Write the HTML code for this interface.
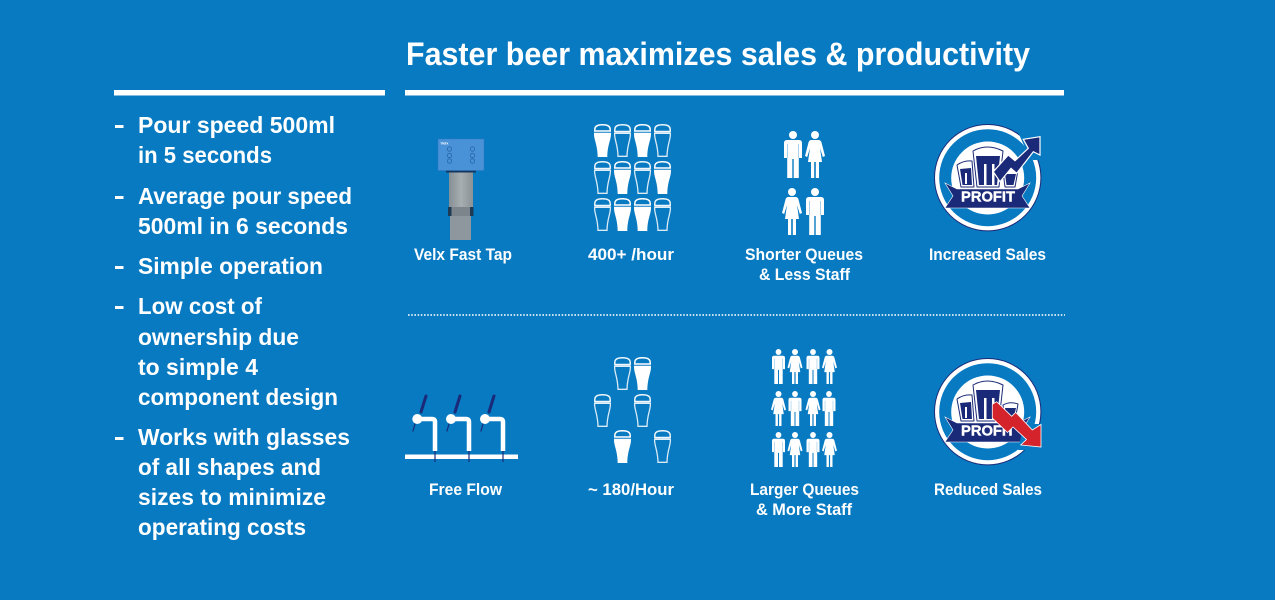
<!DOCTYPE html>
<html lang="en">
<head>
<meta charset="utf-8">
<title>Faster beer maximizes sales &amp; productivity</title>
<style>
html,body{margin:0;padding:0;background:#087ac2;width:1275px;height:600px;overflow:hidden}
svg{display:block}
text{font-family:"Liberation Sans",sans-serif;fill:#fff;font-weight:bold}
.b{font-size:23px}
.l{font-size:16.5px}
</style>
</head>
<body>
<svg width="1275" height="600" viewBox="0 0 1275 600" xmlns="http://www.w3.org/2000/svg">
<defs>
<symbol id="g-o" viewBox="0 0 17 33" width="17" height="33" overflow="visible">
  <path d="M.8 7.500V5.500Q.8 .8 8.500 .8T16.200 5.500V7.500Z" fill="none" stroke="#fff" stroke-width="1.500" opacity=".92"/>
  <path d="M.6 9.300H16.400C16.700 16 13.200 20 13 32.300H4C3.800 20 .3 16 .6 9.300Z" fill="none" stroke="#fff" stroke-width="1.300" opacity=".85"/>
  <rect x="1" y="7.500" width="15" height="1.800" fill="#fff" opacity=".5"/>
</symbol>
<symbol id="g-f" viewBox="0 0 17 33" width="17" height="33" overflow="visible">
  <path d="M.8 7V5.500Q.8 .8 8.500 .8T16.200 5.500V7Z" fill="none" stroke="#fff" stroke-width="1.500"/>
  <path d="M0 8.800H17C17.300 16 13.500 20 13.300 33H3.700C3.500 20 -.3 16 0 8.800Z" fill="#fff"/>
</symbol>
<symbol id="man" viewBox="0 0 18 47" width="18" height="47" overflow="visible" preserveAspectRatio="none">
  <circle cx="9" cy="4" r="4" fill="#fff"/>
  <path d="M3 9H15Q18 9 18 12V27H14.800V47H9.700V28H8.300V47H3.200V27H0V12Q0 9 3 9Z" fill="#fff"/>
  <path d="M3.500 13V27M14.500 13V27" stroke="#0a7cc3" stroke-width=".5" opacity=".7"/>
</symbol>
<symbol id="woman" viewBox="0 0 20 47" width="20" height="47" overflow="visible" preserveAspectRatio="none">
  <circle cx="10" cy="4" r="4" fill="#fff"/>
  <path d="M6.500 9H13.500Q15.800 9 16.500 11.500L20 25L17.800 26L15 17L17 31H14V47H10.800V31H9.200V47H6V31H3L5 17L2.200 26L0 25L3.500 11.500Q4.200 9 6.500 9Z" fill="#fff"/>
</symbol>
<linearGradient id="post" x1="0" x2="1" y1="0" y2="0">
  <stop offset="0" stop-color="#858f96"/><stop offset=".5" stop-color="#a7aeb1"/><stop offset="1" stop-color="#8a9296"/>
</linearGradient>
<g id="badge-base">
  <circle cx="987.700" cy="177.700" r="53.700" fill="#1b2a78"/>
  <circle cx="987.700" cy="177.700" r="52.700" fill="#fff"/>
  <circle cx="987.700" cy="177.700" r="48.500" fill="#087ac2"/>
  <circle cx="987.700" cy="178" r="36.500" fill="#fff"/>
  <g stroke-linejoin="round">
    <path d="M957 165Q964 160 972 161L974 187H961Z" fill="#fff" stroke="#1b2a78" stroke-width="1"/>
    <path d="M960 169L971 168L972 185H962.500Z" fill="#1b2a78"/>
    <path d="M1003 171Q1010 167 1018 170L1015 187H1005Z" fill="#fff" stroke="#1b2a78" stroke-width="1"/>
    <path d="M1005 174H1016L1013.500 185H1006.500Z" fill="#1b2a78"/>
    <path d="M973 151Q987 143 1003 151L999 187H977Z" fill="#fff" stroke="#1b2a78" stroke-width="1"/>
    <path d="M976 156H1000L997 185H979Z" fill="#1b2a78"/>
  </g>
  <rect x="965" y="173" width="2" height="11" fill="#fff"/>
  <rect x="984" y="164" width="2.500" height="21" fill="#fff"/>
  <rect x="992" y="164" width="2.500" height="21" fill="#fff"/>
  <path d="M945 183L957 189H1018L1030 183L1022 196L1030 208H945L953 196Z" fill="#1b2a78" stroke="#fff" stroke-width=".6"/>
</g>
</defs>

<rect width="1275" height="600" fill="#087ac2"/>

<text x="406" y="65" font-size="32" textLength="624" lengthAdjust="spacingAndGlyphs">Faster beer maximizes sales &amp; productivity</text>
<rect x="114" y="90" width="271" height="5.500" fill="#fff"/>
<rect x="405" y="90" width="659" height="5.500" fill="#fff"/>

<g>
  <rect x="115" y="125" width="8.500" height="3" fill="#fff"/>
  <text class="b" x="138" y="133" textLength="197" lengthAdjust="spacingAndGlyphs">Pour speed 500ml</text>
  <text class="b" x="138" y="163" textLength="134" lengthAdjust="spacingAndGlyphs">in 5 seconds</text>
  <rect x="115" y="196" width="8.500" height="3" fill="#fff"/>
  <text class="b" x="138" y="204" textLength="214" lengthAdjust="spacingAndGlyphs">Average pour speed</text>
  <text class="b" x="138" y="234" textLength="210" lengthAdjust="spacingAndGlyphs">500ml in 6 seconds</text>
  <rect x="115" y="266" width="8.500" height="3" fill="#fff"/>
  <text class="b" x="138" y="274" textLength="185" lengthAdjust="spacingAndGlyphs">Simple operation</text>
  <rect x="115" y="306" width="8.500" height="3" fill="#fff"/>
  <text class="b" x="138" y="314" textLength="124" lengthAdjust="spacingAndGlyphs">Low cost of</text>
  <text class="b" x="138" y="345" textLength="161" lengthAdjust="spacingAndGlyphs">ownership due</text>
  <text class="b" x="138" y="375" textLength="120" lengthAdjust="spacingAndGlyphs">to simple 4</text>
  <text class="b" x="138" y="405" textLength="200" lengthAdjust="spacingAndGlyphs">component design</text>
  <rect x="115" y="437" width="8.500" height="3" fill="#fff"/>
  <text class="b" x="138" y="445" textLength="212" lengthAdjust="spacingAndGlyphs">Works with glasses</text>
  <text class="b" x="138" y="475" textLength="183" lengthAdjust="spacingAndGlyphs">of all shapes and</text>
  <text class="b" x="138" y="505" textLength="188" lengthAdjust="spacingAndGlyphs">sizes to minimize</text>
  <text class="b" x="138" y="535" textLength="168" lengthAdjust="spacingAndGlyphs">operating costs</text>
</g>

<g>
  <rect x="449" y="171" width="24" height="37" fill="url(#post)"/>
  <rect x="450" y="216" width="21" height="24" fill="#8d979d"/>
  <rect x="449" y="207" width="24" height="9" fill="#7b858b"/>
  <rect x="448" y="207" width="3.500" height="9" fill="#1e3a55"/>
  <rect x="470" y="207" width="3.500" height="9" fill="#1e3a55"/>
  <rect x="446" y="170" width="30" height="2.500" fill="#14365c"/>
  <rect x="438" y="139" width="46" height="31.500" fill="#4a92d8" stroke="#2f77bd" stroke-width=".5"/>
  <text x="440.500" y="144.500" font-size="4">Velx</text>
  <g fill="none" stroke="#2668aa" stroke-width=".8">
    <circle cx="449.500" cy="149" r="2.200"/><circle cx="449.500" cy="155.500" r="2.200"/><circle cx="449.500" cy="161" r="2.200"/>
    <circle cx="472.500" cy="149" r="2.200"/><circle cx="472.500" cy="155.500" r="2.200"/><circle cx="472.500" cy="161" r="2.200"/>
  </g>
</g>

<g>
  <use href="#g-f" x="594" y="124"/><use href="#g-o" x="614" y="124"/><use href="#g-f" x="634" y="124"/><use href="#g-o" x="654" y="124"/>
  <use href="#g-o" x="594" y="161"/><use href="#g-f" x="614" y="161"/><use href="#g-o" x="634" y="161"/><use href="#g-f" x="654" y="161"/>
  <use href="#g-o" x="594" y="198"/><use href="#g-f" x="614" y="198"/><use href="#g-f" x="634" y="198"/><use href="#g-o" x="654" y="198"/>
</g>

<g>
  <use href="#man" x="784" y="131"/><use href="#woman" x="805" y="131"/>
  <use href="#woman" x="782" y="188"/><use href="#man" x="806" y="188"/>
</g>

<g>
  <use href="#badge-base"/>
  <text x="988" y="201.700" font-size="14.500" text-anchor="middle" textLength="54" lengthAdjust="spacingAndGlyphs" stroke="#fff" stroke-width=".4">PROFIT</text>
  <path d="M1018 132H1044V160H1033L1026 150Z" fill="#087ac2"/>
  <path d="M1040 136.700L1023.300 139.300L1028.300 148.300L1015 160.700L1008.300 155L993.300 171.700L1000 181.700L1011 168.300L1016.700 173.300L1033.300 151.700L1040 155Z" fill="#1b2a78" stroke="#fff" stroke-width="1.200"/>
</g>

<text class="l" x="414" y="260" textLength="98" lengthAdjust="spacingAndGlyphs">Velx Fast Tap</text>
<text class="l" x="588" y="260" textLength="86" lengthAdjust="spacingAndGlyphs">400+ /hour</text>
<text class="l" x="745" y="260" textLength="118" lengthAdjust="spacingAndGlyphs">Shorter Queues</text>
<text class="l" x="759" y="280" textLength="91" lengthAdjust="spacingAndGlyphs">&amp; Less Staff</text>
<text class="l" x="929" y="260" textLength="117" lengthAdjust="spacingAndGlyphs">Increased Sales</text>

<line x1="408" y1="315" x2="1065" y2="315" stroke="#fff" stroke-width="1.600" stroke-dasharray="1.600 1.600"/>

<g>
  <g fill="none" stroke="#fff" stroke-width="4.500">
    <path d="M420 419H432Q435 419 435 422V451"/>
    <path d="M454 419H466Q469 419 469 422V451"/>
    <path d="M488 419H500Q503 419 503 422V451"/>
  </g>
  <rect x="405" y="454.500" width="113" height="4.500" fill="#fff"/>
  <g stroke="#1b2a78" stroke-width="1.200">
    <line x1="435" y1="451" x2="435" y2="462"/><line x1="469" y1="451" x2="469" y2="462"/><line x1="503" y1="451" x2="503" y2="462"/>
  </g>
  <g stroke="#1b2a78" stroke-linecap="round">
    <line x1="426" y1="396" x2="421" y2="412" stroke-width="3"/><line x1="415" y1="424" x2="413" y2="431" stroke-width="1.200"/>
    <line x1="460" y1="396" x2="455" y2="412" stroke-width="3"/><line x1="449" y1="424" x2="447" y2="431" stroke-width="1.200"/>
    <line x1="494" y1="396" x2="489" y2="412" stroke-width="3"/><line x1="483" y1="424" x2="481" y2="431" stroke-width="1.200"/>
  </g>
  <circle cx="417.300" cy="419" r="5" fill="#fff"/><circle cx="451" cy="419" r="5" fill="#fff"/><circle cx="485" cy="419" r="5" fill="#fff"/>
</g>

<g>
  <use href="#g-o" x="614" y="357"/><use href="#g-f" x="634" y="357"/>
  <use href="#g-o" x="594" y="394"/><use href="#g-o" x="634" y="394"/>
  <use href="#g-f" x="614" y="430"/><use href="#g-o" x="654" y="430"/>
</g>

<g>
  <use href="#man" x="772" y="349" width="13" height="35"/><use href="#woman" x="787.500" y="349" width="15" height="35"/><use href="#man" x="806.500" y="349" width="13" height="35"/><use href="#woman" x="822" y="349" width="15" height="35"/>
  <use href="#woman" x="771" y="391" width="15" height="35"/><use href="#man" x="788.500" y="391" width="13" height="35"/><use href="#woman" x="805.500" y="391" width="15" height="35"/><use href="#man" x="822.500" y="391" width="13" height="35"/>
  <use href="#man" x="772" y="432" width="13" height="35"/><use href="#woman" x="787.500" y="432" width="15" height="35"/><use href="#man" x="806.500" y="432" width="13" height="35"/><use href="#woman" x="822" y="432" width="15" height="35"/>
</g>

<g>
  <use href="#badge-base" y="234"/>
  <text x="988" y="435.700" font-size="14.500" text-anchor="middle" textLength="54" lengthAdjust="spacingAndGlyphs" stroke="#fff" stroke-width=".4">PROFIT</text>
  <path d="M1024 424H1044V450H1018Z" fill="#087ac2"/>
  <path d="M992.300 404.300L996.700 401.700L1011.700 416.300L1015.700 412.300L1032.300 430L1041 424.500V447L1020.700 445L1026.500 439.500L1013 427L1007.500 432.500L992.300 418Z" fill="#d4232b" stroke="#fff" stroke-width=".8"/>
</g>

<text class="l" x="429" y="495" textLength="73" lengthAdjust="spacingAndGlyphs">Free Flow</text>
<text class="l" x="588" y="495" textLength="86" lengthAdjust="spacingAndGlyphs">~ 180/Hour</text>
<text class="l" x="750" y="495" textLength="109" lengthAdjust="spacingAndGlyphs">Larger Queues</text>
<text class="l" x="756" y="515" textLength="96" lengthAdjust="spacingAndGlyphs">&amp; More Staff</text>
<text class="l" x="934" y="495" textLength="108" lengthAdjust="spacingAndGlyphs">Reduced Sales</text>
</svg>
</body>
</html>
